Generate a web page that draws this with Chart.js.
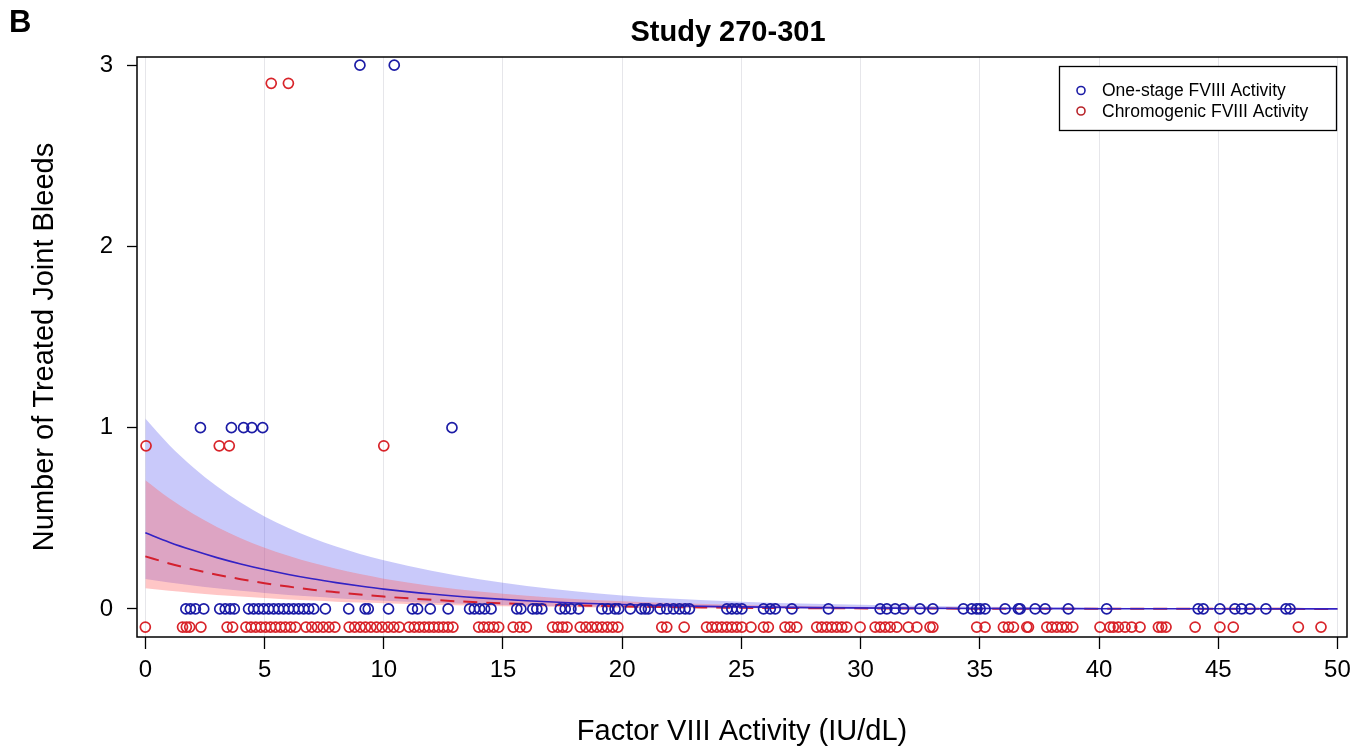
<!DOCTYPE html>
<html><head><meta charset="utf-8">
<script src="https://cdn.jsdelivr.net/npm/chart.js@4.4.1/dist/chart.umd.min.js"></script>
<style>html,body{margin:0;padding:0;background:#fff}#wrap{width:1370px;height:751px;position:relative}canvas{display:block}</style>
</head><body><div id="wrap"><canvas id="c" width="1370" height="751" style="width:1370px;height:751px"></canvas></div>
<script>
const panelLabel = 'B';
const chartTitle = 'Study 270-301';
const xAxisTitle = 'Factor VIII Activity (IU/dL)';
const yAxisTitle = 'Number of Treated Joint Bleeds';
const seriesNames = ['One-stage FVIII Activity', 'Chromogenic FVIII Activity'];
const xTicks = [0, 5, 10, 15, 20, 25, 30, 35, 40, 45, 50];
const yTicks = [0, 1, 2, 3];

// One-stage FVIII activity (x) grouped by number of treated joint bleeds
const oneStage0 = [1.70,1.89,2.10,2.45,3.12,3.35,3.56,3.73,4.33,4.54,4.75,4.96,5.17,5.38,5.59,5.80,6.01,6.22,6.43,6.64,6.85,7.06,7.55,8.53,9.22,9.35,10.2,11.2,11.42,11.95,12.7,13.6,13.8,14.02,14.23,14.5,15.58,15.75,16.25,16.42,16.63,17.40,17.61,17.85,18.17,19.15,19.4,19.7,19.85,20.34,20.8,20.96,21.10,21.59,21.87,22.15,22.4,22.64,22.82,24.39,24.60,24.81,25.02,25.93,26.21,26.42,27.12,28.65,30.82,31.10,31.45,31.80,32.49,33.03,34.31,34.66,34.87,35.01,35.22,36.06,36.62,36.69,37.32,37.74,38.71,40.32,44.16,44.37,45.07,45.70,45.98,46.33,47.0,47.84,48.01];
const oneStage1 = [2.31, 3.61, 4.12, 4.47, 4.92, 12.86];
const oneStage3 = [9.0, 10.44];

// Chromogenic FVIII activity (x) grouped by number of treated joint bleeds
const chromo0 = [0.0,1.56,1.72,1.86,2.33,3.43,3.66,4.22,4.43,4.63,4.84,5.04,5.25,5.46,5.67,5.87,6.09,6.30,6.74,6.98,7.22,7.46,7.70,7.95,8.55,8.78,9.01,9.23,9.46,9.70,9.93,10.18,10.42,10.65,11.06,11.28,11.49,11.70,11.90,12.10,12.30,12.50,12.70,12.90,13.98,14.19,14.40,14.61,14.82,15.43,15.71,15.98,17.08,17.30,17.50,17.69,18.24,18.48,18.72,18.94,19.16,19.38,19.60,19.82,21.66,21.87,22.60,23.54,23.76,23.97,24.18,24.39,24.60,24.81,25.02,25.40,25.93,26.13,26.83,27.04,27.32,28.16,28.37,28.58,28.79,29.00,29.21,29.42,29.98,30.61,30.82,31.03,31.24,31.52,32.00,32.36,32.91,33.03,34.87,35.22,35.99,36.20,36.41,36.97,37.04,37.81,38.02,38.23,38.44,38.65,38.90,40.04,40.46,40.60,40.81,41.09,41.37,41.72,42.49,42.63,42.81,44.03,45.07,45.63,48.36,49.31];
const chromo1 = [0.03, 3.10, 3.52, 10.0];
const chromo3 = [5.28, 6.0];
const chromoDisplayShift = -0.1; // chromogenic markers are drawn slightly below their count

// Fitted model curves and 95% confidence bands
const curveX       = [0, 1, 2, 3, 4, 5, 6, 7, 8, 9, 10, 12, 14, 16, 18, 20, 22, 25, 28, 31, 35, 40, 45, 50];
const oneStageFit  = [0.42,0.368,0.323,0.283,0.248,0.217,0.190,0.166,0.145,0.126,0.109,0.082,0.061,0.045,0.033,0.024,0.017,0.011,0.007,0.0045,0.0025,0.0012,0.0006,0.0003];
const oneStageHi   = [1.05,0.905,0.782,0.677,0.587,0.510,0.446,0.391,0.344,0.303,0.268,0.21,0.163,0.126,0.097,0.074,0.057,0.04,0.028,0.02,0.012,0.006,0.003,0.0015];
const oneStageLo   = [0.165,0.146,0.129,0.114,0.1,0.088,0.077,0.068,0.059,0.052,0.045,0.034,0.026,0.019,0.014,0.01,0.0075,0.005,0.003,0.002,0.001,0.0005,0.0002,0.0001];
const chromoFit    = [0.29,0.251,0.218,0.189,0.164,0.142,0.123,0.106,0.092,0.079,0.068,0.050,0.036,0.026,0.019,0.014,0.010,0.006,0.004,0.0025,0.0013,0.0006,0.0003,0.0001];
const chromoHi     = [0.71,0.61,0.525,0.452,0.39,0.338,0.293,0.254,0.221,0.192,0.167,0.127,0.096,0.073,0.055,0.042,0.032,0.021,0.014,0.009,0.005,0.0025,0.0012,0.0006];
const chromoLo     = [0.114,0.1,0.088,0.077,0.068,0.06,0.052,0.046,0.04,0.035,0.031,0.023,0.017,0.013,0.0095,0.007,0.005,0.003,0.002,0.0012,0.0006,0.0003,0.0001,0];

const blueCol = '#1c1ca6';
const redCol = '#d8242a';
const FONT = "'Liberation Sans', Arial, sans-serif";

function pts(xs, y) { return xs.map(x => ({x: x, y: y})); }
function curve(ys) { return curveX.map((x, i) => ({x: x, y: ys[i]})); }

const oneStagePoints = [].concat(pts(oneStage0, 0), pts(oneStage1, 1), pts(oneStage3, 3));
const chromoPoints = [].concat(pts(chromo0, 0 + chromoDisplayShift), pts(chromo1, 1 + chromoDisplayShift), pts(chromo3, 3 + chromoDisplayShift));

const frame = {
  id: 'frame',
  afterDraw(chart) {
    const ctx = chart.ctx, a = chart.chartArea;
    ctx.save();
    ctx.strokeStyle = '#000'; ctx.lineWidth = 1.5;
    ctx.strokeRect(a.left, a.top, a.right - a.left, a.bottom - a.top);
    ctx.fillStyle = '#000';
    ctx.textBaseline = 'middle';
    ctx.font = "bold 31px " + FONT;
    ctx.textAlign = 'left';
    ctx.fillText(panelLabel, 9, 23);
    ctx.font = "bold 29px " + FONT;
    ctx.textAlign = 'center';
    ctx.fillText(chartTitle, 728, 33);
    const lx = 1059.5, ly = 66.5, lw = 277, lh = 64;
    ctx.fillStyle = '#fff';
    ctx.fillRect(lx, ly, lw, lh);
    ctx.strokeStyle = '#000'; ctx.lineWidth = 1.3;
    ctx.strokeRect(lx, ly, lw, lh);
    ctx.font = "17.5px " + FONT;
    const items = [{name: seriesNames[0], col: blueCol, y: 90.5}, {name: seriesNames[1], col: '#b8242a', y: 111}];
    items.forEach(it => {
      ctx.beginPath(); ctx.arc(1081, it.y, 4, 0, Math.PI * 2);
      ctx.strokeStyle = it.col; ctx.lineWidth = 1.6; ctx.stroke();
      ctx.fillStyle = '#000'; ctx.textAlign = 'left'; ctx.textBaseline = 'middle';
      ctx.fillText(it.name, 1102, it.y + 1);
    });
    ctx.restore();
  }
};

const bandCommon = {type: 'line', pointRadius: 0, borderWidth: 0, cubicInterpolationMode: 'monotone'};

new Chart(document.getElementById('c'), {
  type: 'scatter',
  data: {
    datasets: [
      {label: seriesNames[0], data: oneStagePoints, pointRadius: 5, pointBorderWidth: 1.7, borderColor: blueCol, backgroundColor: 'rgba(0,0,0,0)', pointBackgroundColor: 'rgba(0,0,0,0)', showLine: false},
      {label: seriesNames[1], data: chromoPoints, pointRadius: 5, pointBorderWidth: 1.7, borderColor: redCol, backgroundColor: 'rgba(0,0,0,0)', pointBackgroundColor: 'rgba(0,0,0,0)', showLine: false},
      {label: 'One-stage fit', type: 'line', data: curve(oneStageFit), borderColor: '#3322c4', borderWidth: 1.6, pointRadius: 0, fill: false, cubicInterpolationMode: 'monotone'},
      {label: 'Chromogenic fit', type: 'line', data: curve(chromoFit), borderColor: '#d4202e', borderWidth: 2, borderDash: [14, 9], pointRadius: 0, fill: false, cubicInterpolationMode: 'monotone'},
      Object.assign({label: 'Chromogenic CI upper', data: curve(chromoHi), fill: '+1', backgroundColor: 'rgba(255,98,98,0.36)', borderColor: 'rgba(0,0,0,0)'}, bandCommon),
      Object.assign({label: 'Chromogenic CI lower', data: curve(chromoLo), fill: false, borderColor: 'rgba(0,0,0,0)'}, bandCommon),
      Object.assign({label: 'One-stage CI upper', data: curve(oneStageHi), fill: '+1', backgroundColor: 'rgba(92,92,240,0.33)', borderColor: 'rgba(0,0,0,0)'}, bandCommon),
      Object.assign({label: 'One-stage CI lower', data: curve(oneStageLo), fill: false, borderColor: 'rgba(0,0,0,0)'}, bandCommon)
    ]
  },
  options: {
    responsive: false,
    maintainAspectRatio: false,
    animation: false,
    devicePixelRatio: 1,
    layout: {padding: {left: 0, right: 23, top: 57, bottom: 0}},
    plugins: {
      legend: {display: false},
      tooltip: {enabled: false},
      title: {display: false}
    },
    scales: {
      x: {
        type: 'linear', min: -0.35, max: 50.4,
        afterBuildTicks: s => { s.ticks = xTicks.map(v => ({value: v})); },
        afterFit: s => { s.height = 114; },
        grid: {color: '#e6e6ea', lineWidth: 1, drawOnChartArea: true, drawTicks: true, tickColor: '#000', tickLength: 12, tickWidth: 1.3},
        border: {display: false},
        ticks: {color: '#000', font: {family: FONT, size: 24}, padding: 7, maxRotation: 0, autoSkip: false},
        title: {display: true, text: xAxisTitle, color: '#000', font: {family: FONT, size: 29}, padding: {top: 0, bottom: 2}}
      },
      y: {
        type: 'linear', min: -0.155, max: 3.045,
        afterBuildTicks: s => { s.ticks = yTicks.map(v => ({value: v})); },
        afterFit: s => { s.width = 137; },
        grid: {drawOnChartArea: false, drawTicks: true, tickColor: '#000', tickLength: 10, tickWidth: 1.3},
        border: {display: false},
        ticks: {color: '#000', font: {family: FONT, size: 24}, padding: 14, autoSkip: false},
        title: {display: true, text: yAxisTitle, color: '#000', font: {family: FONT, size: 29}, padding: {top: 28, bottom: 0}}
      }
    }
  },
  plugins: [frame]
});
</script>
</body></html>
